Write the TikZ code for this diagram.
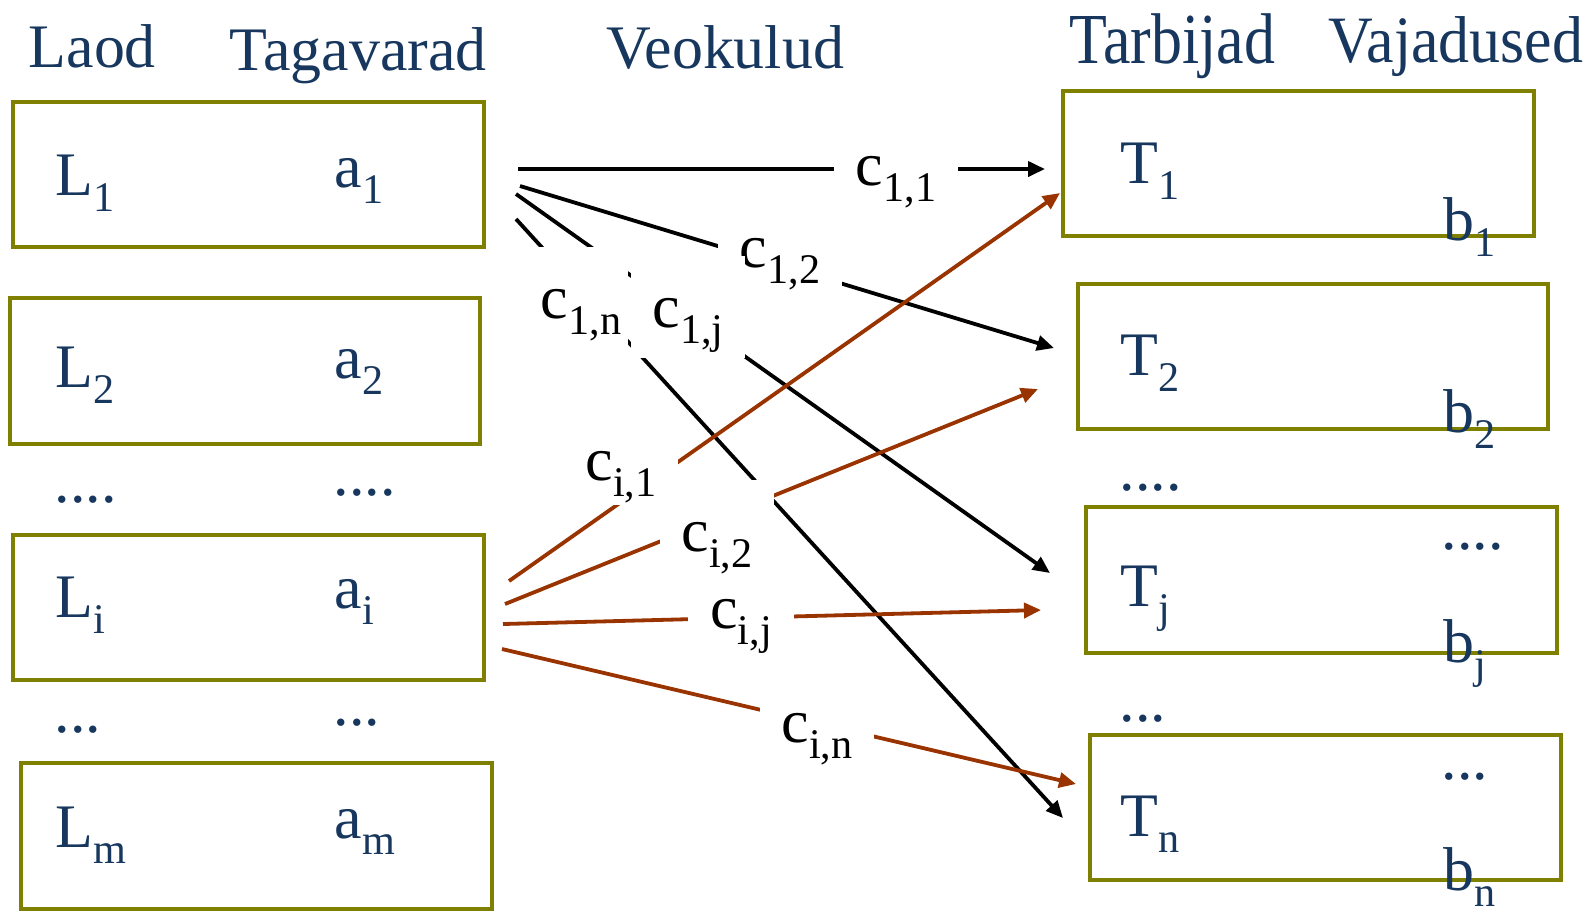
\documentclass[tikz,border=0pt]{standalone}
\usepackage{fontspec}
\setmainfont{Liberation Serif}
\usepackage{graphicx}
\usepackage{tikz}
\usetikzlibrary{arrows.meta}
\definecolor{csinine}{HTML}{17375E}
\definecolor{coliiv}{HTML}{808000}
\definecolor{cpruun}{HTML}{993300}
\newcommand{\alam}[1]{\raisebox{-0.16cm}{\fontsize{12}{14}\selectfont #1}}
\tikzset{
  kast/.style={rectangle, draw=coliiv, line width=0.04cm, inner sep=0pt,
    minimum width=4.7cm, minimum height=1.45cm},
  tekst/.style={anchor=base west, inner sep=0pt, text=csinine,
    font=\fontsize{17.6}{21}\selectfont},
  hind/.style={anchor=base, fill=white, text=black, inner xsep=0.22cm, inner ysep=0.08cm,
    text height=0.63cm, text depth=0.23cm, font=\fontsize{17.6}{21}\selectfont},
  nool/.style={-{Triangle[length=0.17cm,width=0.15cm]}, line width=0.038cm, draw=black},
  noolp/.style={nool, draw=cpruun},
}
\begin{document}
\begin{tikzpicture}[x=0.01cm, y=-0.01cm]
  \useasboundingbox (0,0) rectangle (1595,911);
  % pealkirjad
  \node[tekst] (hlaod) at (28,67) {Laod};
  \node[tekst] (htag) at (229,70) {Tagavarad};
  \node[tekst] (hveo) at (606,68) {Veokulud};
  \node[tekst] (htarb) at (1069,63) {\scalebox{1}[1.16]{Tarbijad}};
  \node[tekst] (hvaj) at (1328,62) {\scalebox{1}[1.07]{Vajadused}};
  % laod
  \node[kast] (L1) at (248.5,174.5) {};
  \node[kast] (L2) at (245,371) {};
  \node[kast] (Li) at (248.5,607.5) {};
  \node[kast] (Lm) at (256.5,836) {};
  \node[tekst] (tL1) at (55,195) {L\alam{1}};
  \node[tekst] (ta1) at (334,187) {a\alam{1}};
  \node[tekst] (tL2) at (55,387) {L\alam{2}};
  \node[tekst] (ta2) at (334,378) {a\alam{2}};
  \node[tekst] (p1) at (54,502) {....};
  \node[tekst] (p2) at (333,495) {....};
  \node[tekst] (tLi) at (55,617) {L\alam{i}};
  \node[tekst] (tai) at (334,608) {a\alam{i}};
  \node[tekst] (p3) at (54,732) {...};
  \node[tekst] (p4) at (333,725) {...};
  \node[tekst] (tLm) at (55,847) {L\alam{m}};
  \node[tekst] (tam) at (334,838) {a\alam{m}};
  % tarbijad
  \node[kast] (T1) at (1298.5,163.5) {};
  \node[kast] (T2) at (1313,356.5) {};
  \node[kast] (Tj) at (1321.5,580) {};
  \node[kast] (Tn) at (1325.5,807.5) {};
  \node[tekst] (tT1) at (1120,183) {T\alam{1}};
  \node[tekst] (tb1) at (1443,240) {b\alam{1}};
  \node[tekst] (tT2) at (1120,375) {T\alam{2}};
  \node[tekst] (tb2) at (1443,432) {b\alam{2}};
  \node[tekst] (p5) at (1119,490) {....};
  \node[tekst] (p6) at (1441,549) {....};
  \node[tekst] (tTj) at (1120,606) {T\alam{j}};
  \node[tekst] (tbj) at (1443,662) {b\alam{j}};
  \node[tekst] (p7) at (1119,721) {...};
  \node[tekst] (p8) at (1441,779) {...};
  \node[tekst] (tTn) at (1120,836) {T\alam{n}};
  \node[tekst] (tbn) at (1443,890) {b\alam{n}};
  % noolte otsad
  \coordinate (a11) at (518,169);   \coordinate (s11) at (1045,169);
  \coordinate (a12) at (520,186);   \coordinate (s12) at (1054,348);
  \coordinate (a1j) at (516,194);   \coordinate (s1j) at (1050,573);
  \coordinate (a1n) at (516,219);   \coordinate (s1n) at (1063,818);
  \coordinate (ai1) at (509,581);   \coordinate (si1) at (1060,193);
  \coordinate (ai2) at (505,604);   \coordinate (si2) at (1038,389);
  \coordinate (aij) at (503,624);   \coordinate (sij) at (1041,610);
  \coordinate (ain) at (502,649);   \coordinate (sin) at (1076,784);
  \draw[nool] (a11) -- (s11);
  \draw[nool] (a12) -- (s12);
  \draw[nool] (a1j) -- (s1j);
  \draw[nool] (a1n) -- (s1n);
  \draw[noolp] (ai1) -- (si1);
  \draw[noolp] (ai2) -- (si2);
  \draw[noolp] (aij) -- (sij);
  \draw[noolp] (ain) -- (sin);
  % veokulud
  \node[hind] (k11) at (896,185) {c\alam{1,1}};
  \node[hind] (k12) at (780,267) {c\alam{1,2}};
  \node[hind, inner xsep=0.07cm] (k1n) at (581,318) {c\alam{1,n}};
  \node[hind] (k1j) at (688,327) {c\alam{1,j}};
  \node[hind] (kin) at (817,742) {c\alam{i,n}};
  \node[hind] (kij) at (741,628) {c\alam{i,j}};
  \node[hind, text depth=0.17cm] (ki1) at (621,480) {c\alam{i,1}};
  \node[hind] (ki2) at (717,551) {c\alam{i,2}};
\end{tikzpicture}
\end{document}
